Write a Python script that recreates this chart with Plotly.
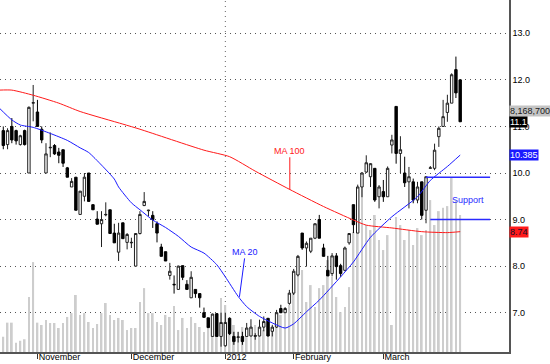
import plotly.graph_objects as go

# ---------------- data ----------------
opens = [10.91, 10.61, 11.00, 10.91, 10.61, 10.91, 10.00, 11.50, 11.31, 10.94,
         10.00, 10.54, 10.59, 10.45, 10.50, 10.11, 9.70, 9.91, 9.11, 9.50,
         10.00, 9.32, 9.01, 8.91, 9.10, 9.21, 8.71, 8.30, 8.93, 8.51,
         8.50, 8.00, 8.70, 9.30, 9.19, 9.09, 8.91, 8.41, 8.31, 7.80,
         7.61, 7.50, 8.01, 7.61, 7.32, 7.50, 7.41, 7.00, 6.89, 6.49,
         6.98, 6.49, 6.29, 6.88, 6.49, 6.47, 6.49, 6.49, 6.50, 6.49,
         6.50, 6.69, 6.88, 6.60, 6.69, 7.09, 7.00, 7.20, 7.42, 7.81,
         8.71, 8.39, 8.32, 8.60, 9.00, 8.39, 7.91, 7.84, 8.22, 8.01,
         7.91, 8.50, 9.32, 8.71, 9.70, 10.02, 9.92, 10.10, 9.49, 9.60,
         9.49, 10.60, 11.43, 10.42, 10.00, 9.81, 9.81, 9.42, 9.81, 9.20,
         10.10, 10.10, 10.78, 11.00, 11.30, 11.50, 12.22, 12.00]
highs = [11.00, 10.96, 11.18, 10.93, 10.82, 10.93, 11.43, 11.89, 11.57, 11.00,
         10.64, 10.87, 10.62, 10.54, 10.50, 10.13, 9.89, 9.91, 9.61, 10.00,
         10.00, 9.32, 9.18, 9.18, 9.37, 9.21, 8.91, 8.93, 8.93, 8.71,
         8.61, 8.71, 9.18, 9.59, 9.21, 9.18, 8.96, 8.48, 8.31, 8.07,
         7.80, 8.01, 8.01, 7.70, 7.89, 7.50, 7.41, 7.11, 6.89, 6.98,
         6.99, 7.00, 7.00, 6.90, 6.59, 6.59, 6.59, 6.78, 6.86, 6.56,
         6.85, 6.92, 6.88, 6.74, 7.06, 7.17, 7.12, 7.49, 7.94, 8.24,
         8.71, 8.53, 8.60, 8.92, 9.10, 8.48, 8.22, 8.28, 8.28, 8.05,
         8.42, 8.71, 9.32, 9.75, 10.02, 10.38, 10.21, 10.10, 9.74, 9.85,
         10.14, 10.82, 11.43, 10.79, 10.35, 10.13, 9.88, 9.81, 9.81, 9.92,
         10.15, 10.63, 11.00, 11.57, 11.68, 12.14, 12.50, 12.00]
lows = [10.51, 10.51, 10.64, 10.61, 10.59, 10.59, 10.00, 11.11, 11.00, 10.64,
        10.00, 10.34, 10.39, 10.21, 10.13, 9.91, 9.70, 9.20, 9.11, 9.39,
        9.39, 9.21, 8.90, 8.41, 9.07, 8.70, 8.50, 8.11, 8.59, 8.36,
        8.39, 8.00, 8.68, 9.29, 9.07, 8.82, 8.51, 8.21, 8.11, 7.71,
        7.41, 7.50, 7.70, 7.50, 7.32, 7.32, 7.11, 6.89, 6.68, 6.49,
        6.49, 6.27, 6.27, 6.52, 6.31, 6.36, 6.31, 6.49, 6.49, 6.42,
        6.49, 6.60, 6.49, 6.49, 6.67, 6.99, 7.00, 7.17, 7.38, 7.78,
        8.35, 7.99, 8.28, 8.58, 8.60, 8.21, 7.79, 7.78, 7.71, 7.77,
        7.89, 8.46, 8.71, 8.71, 9.48, 10.00, 9.70, 9.38, 9.24, 9.38,
        9.49, 10.42, 10.20, 10.00, 9.70, 9.24, 9.35, 9.35, 9.00, 8.92,
        10.10, 10.06, 10.56, 10.99, 11.10, 11.50, 11.61, 11.10]
closes = [10.59, 10.91, 10.71, 10.69, 10.80, 10.61, 11.41, 11.51, 11.00, 10.71,
          10.41, 10.55, 10.41, 10.38, 10.21, 9.91, 9.82, 9.20, 9.61, 9.91,
          9.39, 9.21, 8.90, 9.00, 9.11, 8.70, 8.50, 8.71, 8.59, 8.68,
          8.51, 8.70, 9.11, 9.39, 9.20, 9.00, 8.71, 8.21, 8.11, 7.89,
          7.60, 8.00, 7.76, 7.50, 7.76, 7.41, 7.32, 6.90, 6.68, 6.97,
          6.49, 6.79, 6.79, 6.55, 6.38, 6.48, 6.38, 6.67, 6.69, 6.51,
          6.69, 6.81, 6.50, 6.69, 7.00, 7.00, 7.09, 7.42, 7.89, 8.21,
          8.39, 8.49, 8.60, 8.91, 8.60, 8.21, 7.79, 8.22, 7.99, 7.84,
          8.39, 8.70, 8.89, 9.70, 10.00, 10.22, 10.20, 9.42, 9.70, 9.49,
          10.10, 10.71, 10.42, 10.50, 9.79, 9.92, 9.42, 9.70, 9.09, 9.92,
          10.11, 10.49, 10.96, 11.21, 11.50, 12.11, 11.72, 11.10]
volume_m = [0.91, 1.75, 1.75, 0.55, 0.67, 0.76, 3.28, 5.36, 1.75, 1.61,
            1.91, 1.73, 1.73, 1.43, 1.73, 2.09, 2.32, 3.40, 2.21, 2.32,
            1.79, 1.43, 1.67, 2.32, 2.92, 2.21, 1.91, 2.03, 1.91, 1.31,
            1.43, 1.43, 2.98, 3.81, 2.32, 2.32, 1.79, 1.61, 2.21, 2.09,
            2.74, 1.31, 2.03, 1.43, 2.09, 1.73, 1.49, 1.19, 2.03, 1.73,
            1.19, 3.22, 2.80, 1.91, 1.61, 1.19, 1.49, 0.89, 1.13, 1.61,
            1.43, 1.31, 1.31, 1.49, 1.43, 2.21, 2.50, 2.80, 4.77, 5.66,
            4.89, 2.98, 3.99, 2.68, 3.81, 3.99, 5.48, 4.47, 3.28, 2.38,
            2.68, 3.87, 7.15, 7.15, 10.25, 7.57, 7.27, 8.17, 6.68, 6.08,
            6.97, 1.61, 8.05, 7.57, 6.68, 7.27, 6.38, 7.39, 6.97, 7.27,
            9.06, 7.57, 8.40, 8.60, 8.70, 10.43, 9.06, 8.1687]
idx = list(range(len(closes)))

ma20_idx = [-1, 2, 4, 7, 11, 15, 18, 20, 23, 26, 27, 30, 32, 35, 38, 41, 44, 47,
            50, 52, 55, 57, 60, 63, 66, 68, 71, 74, 79, 82, 86, 91, 97, 100, 104, 107]
ma20_val = [11.40, 11.14, 11.03, 10.98, 10.85, 10.70, 10.54, 10.44, 10.17, 9.87,
            9.70, 9.36, 9.21, 8.99, 8.83, 8.64, 8.41, 8.28, 8.03, 7.77, 7.35, 7.13,
            6.92, 6.78, 6.67, 6.76, 7.02, 7.27, 7.77, 8.09, 8.62, 9.06, 9.49, 9.84,
            10.14, 10.385]
ma100_idx = [-1, 2, 7, 13, 18, 28, 32, 47, 53, 59, 67, 75, 82, 85, 91, 98, 104, 107]
ma100_val = [11.78, 11.78, 11.67, 11.50, 11.32, 11.05, 10.94, 10.49, 10.35, 10.04,
             9.65, 9.28, 8.99, 8.88, 8.82, 8.74, 8.72, 8.74]

month_idx = [8, 30, 52, 68, 89]
month_labels = ["November", "December", "2012", "February", "March"]
year_break_idx = 52

support_levels = [9.91, 9.0]
support_start = [99, 100]
support_end = 114
support_label_pos = (108.8, 9.42)

last_volume = 8168700
ma100_label_at = (67.1, 9.64)
ma20_label_at = (55.3, 7.34)

# ---------------- figure ----------------
FONT = "Liberation Sans, Arial, sans-serif"
volume = [v * 1e6 for v in volume_m]

fig = go.Figure()
fig.add_trace(go.Bar(x=idx, y=volume, yaxis="y", width=0.42,
                     marker=dict(color="#cdcdcd", line=dict(width=0)),
                     hoverinfo="skip", showlegend=False))
fig.add_trace(go.Candlestick(x=idx, open=opens, high=highs, low=lows, close=closes,
                             yaxis="y2", whiskerwidth=0,
                             increasing=dict(line=dict(color="#202020", width=1), fillcolor="white"),
                             decreasing=dict(line=dict(color="#000000", width=1), fillcolor="#000000"),
                             showlegend=False))
fig.add_trace(go.Scatter(x=ma100_idx, y=ma100_val, yaxis="y2", mode="lines",
                         line=dict(color="#ff1a1a", width=1, shape="spline", smoothing=0.6),
                         showlegend=False))
fig.add_trace(go.Scatter(x=ma20_idx, y=ma20_val, yaxis="y2", mode="lines",
                         line=dict(color="#1a1aff", width=1, shape="spline", smoothing=0.6),
                         showlegend=False))

shapes = [dict(type="line", xref="x", yref="paper", x0=year_break_idx, x1=year_break_idx,
               y0=0, y1=1, line=dict(color="#666666", width=1, dash="1px,4px"), layer="below")]
for lvl, s in zip(support_levels, support_start):
    shapes.append(dict(type="line", xref="x", yref="y2", x0=s, x1=support_end, y0=lvl, y1=lvl,
                       line=dict(color="#2a2aff", width=1.5)))

ann = []
ann.append(dict(x=ma100_label_at[0], y=ma100_label_at[1], xref="x", yref="y2", text="MA 100",
                showarrow=True, arrowhead=0, arrowwidth=1, arrowcolor="#ff1a1a", ax=0, ay=-39,
                font=dict(family=FONT, size=9, color="#ff1a1a")))
ann.append(dict(x=ma20_label_at[0], y=ma20_label_at[1], xref="x", yref="y2", text="MA 20",
                showarrow=True, arrowhead=0, arrowwidth=1, arrowcolor="#1a1aff", ax=6, ay=-45,
                font=dict(family=FONT, size=9, color="#1a1aff")))
ann.append(dict(x=support_label_pos[0], y=support_label_pos[1], xref="x", yref="y2", text="Support",
                showarrow=False, font=dict(family=FONT, size=9, color="#2a2aff")))
# right-hand last-value labels
ann.append(dict(x=1, xref="paper", xanchor="left", y=closes[-1] + 0.24, yref="y2",
                text=f"{last_volume:,}", showarrow=False, bgcolor="#c4c4c4", borderpad=0,
                font=dict(family=FONT, size=9, color="#202020")))
ann.append(dict(x=1, xref="paper", xanchor="left", y=closes[-1], yref="y2",
                text=f"{closes[-1]:.1f}", showarrow=False, bgcolor="#000000", borderpad=0,
                font=dict(family=FONT, size=9, color="white")))
ann.append(dict(x=1, xref="paper", xanchor="left", y=ma20_val[-1], yref="y2",
                text=f"{ma20_val[-1]:.3f}", showarrow=False, bgcolor="#1a1aff", borderpad=0,
                font=dict(family=FONT, size=9, color="white")))
ann.append(dict(x=1, xref="paper", xanchor="left", y=ma100_val[-1], yref="y2",
                text=f"{ma100_val[-1]:.2f}", showarrow=False, bgcolor="#ff1a1a", borderpad=0,
                font=dict(family=FONT, size=9, color="#101030")))

fig.update_layout(
    width=550, height=364,
    margin=dict(l=0, r=41, t=0, b=12, pad=0),
    paper_bgcolor="white", plot_bgcolor="white",
    boxgap=0.25, boxgroupgap=0.25,
    font=dict(family=FONT, size=9, color="#000000"),
    xaxis=dict(type="linear", range=[-0.77, 118.43], showgrid=False, zeroline=False,
               showline=True, linecolor="#555555", linewidth=1.5,
               ticks="outside", ticklen=5, tickcolor="#333333", tickwidth=1,
               tickvals=month_idx, ticktext=month_labels,
               ticklabelposition="outside right", ticklabelstandoff=-5,
               tickfont=dict(family=FONT, size=9, color="#000000"),
               rangeslider=dict(visible=False), automargin=False, fixedrange=True),
    yaxis=dict(range=[0, 20.99e6], visible=False, fixedrange=True),
    yaxis2=dict(overlaying="y", side="right", range=[6.156, 13.715], tick0=7, dtick=1,
                tickformat=".1f", showgrid=True, gridcolor="#555555", gridwidth=1,
                griddash="1px,4px", zeroline=False, showline=True, linecolor="#555555",
                linewidth=1.5, ticks="", automargin=False,
                tickfont=dict(family=FONT, size=9, color="#000000"), fixedrange=True),
    shapes=shapes, annotations=ann, hovermode=False,
)

fig.write_html("out.html")
